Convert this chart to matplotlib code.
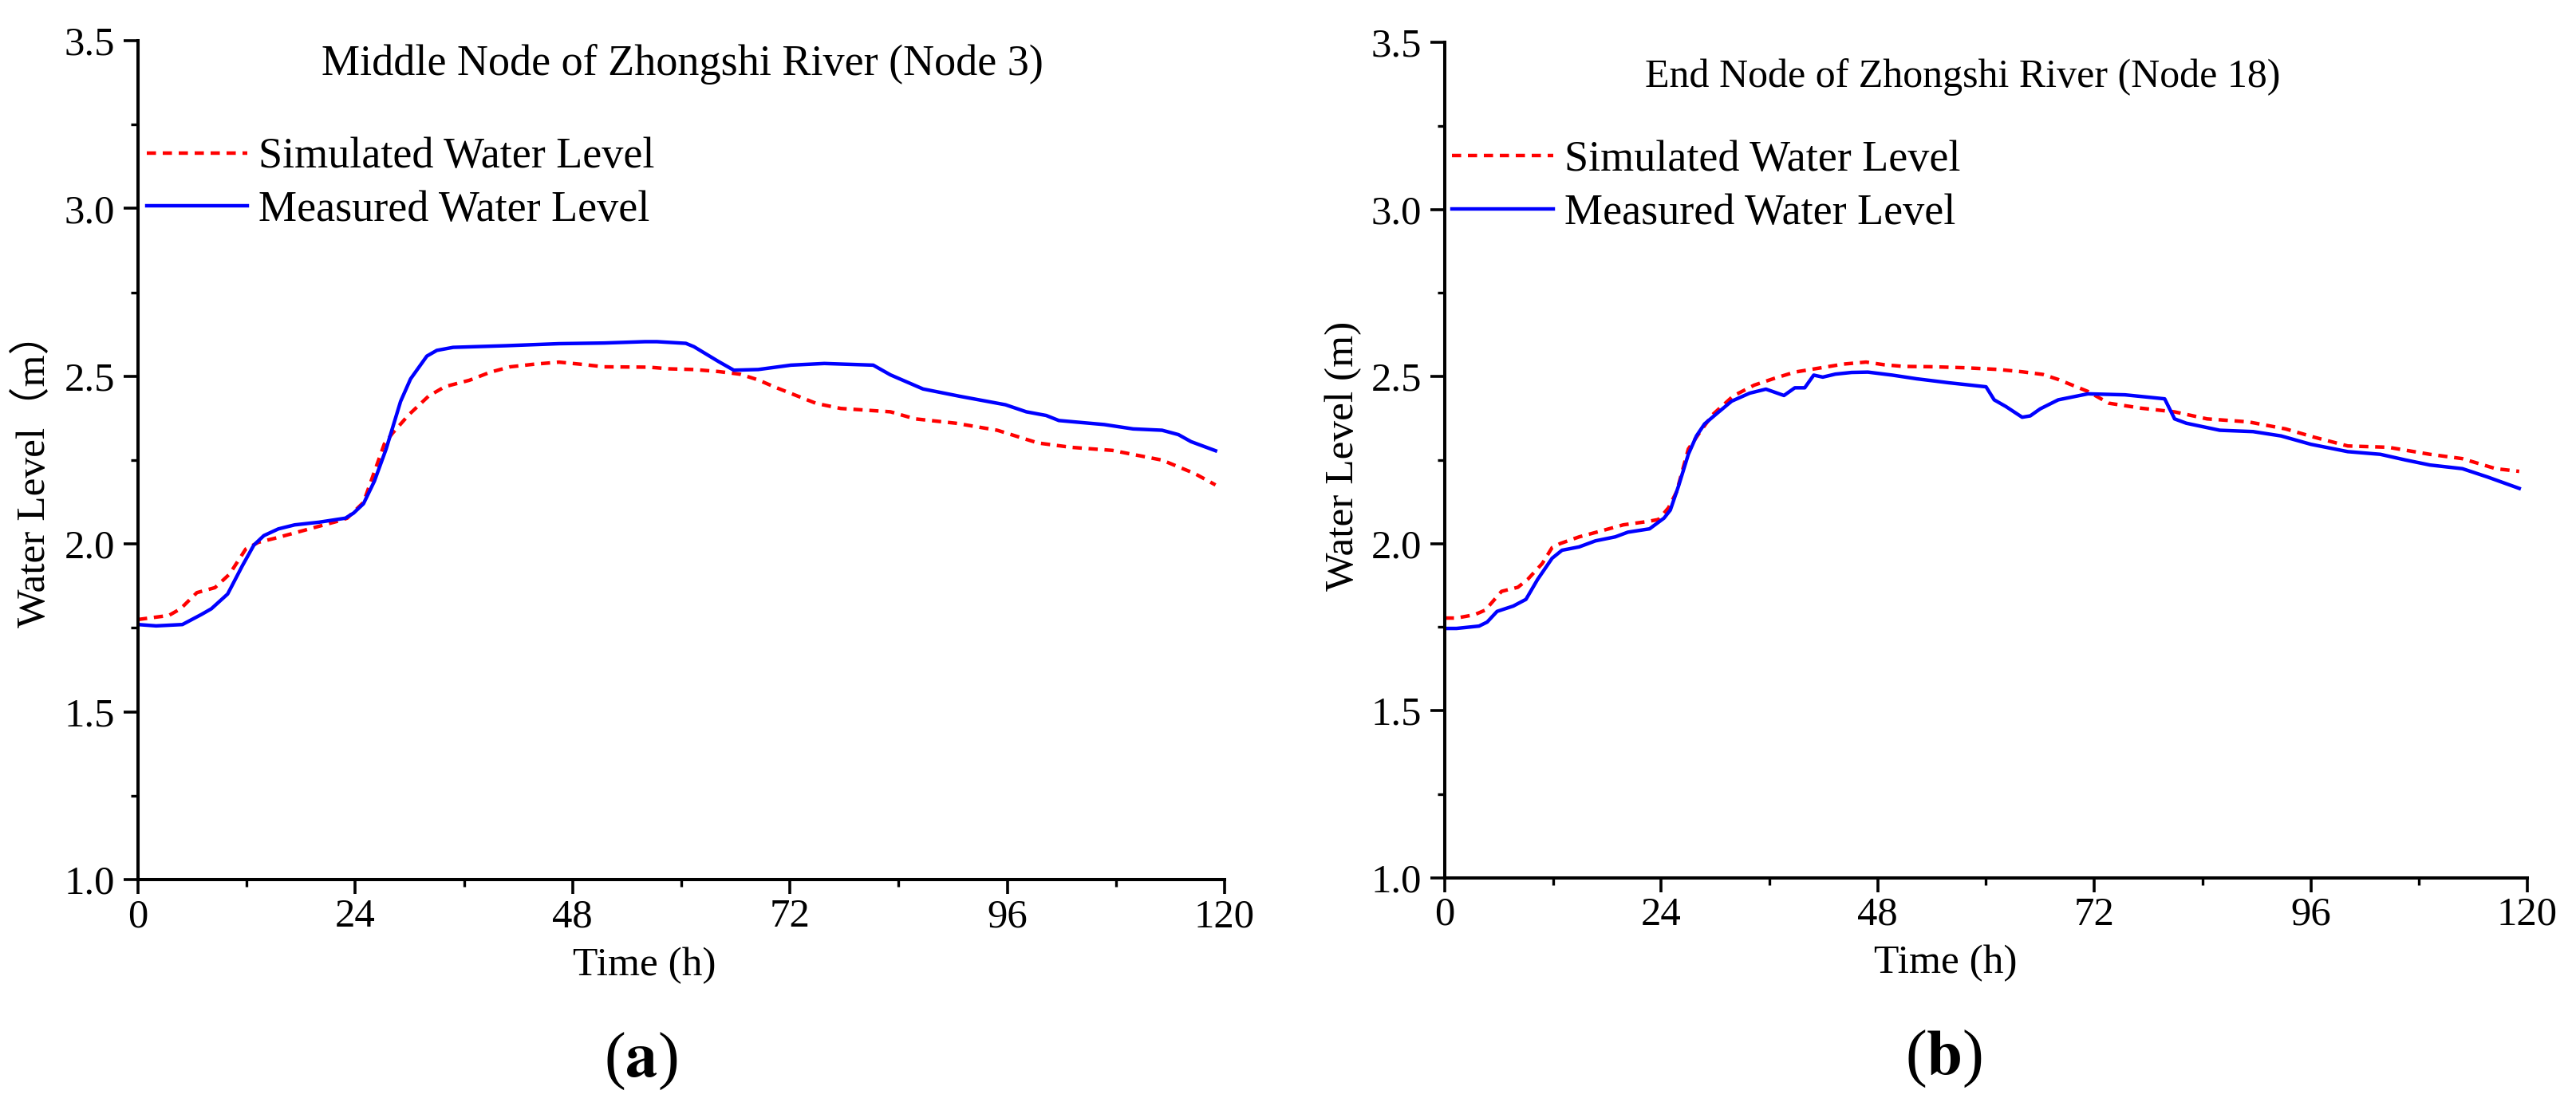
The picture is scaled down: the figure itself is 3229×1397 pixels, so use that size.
"""Simulated vs measured water level at two Zhongshi River nodes (panels a, b)."""

import matplotlib

matplotlib.use("Agg")
import matplotlib.pyplot as plt  # noqa: E402
from matplotlib.ticker import MultipleLocator  # noqa: E402

# --- data --------------------------------------------------------------------
# (a) middle node (node 3)
mid_meas_h = [0, 2.0, 4.9, 7.0, 8.1, 9.9, 11.5, 12.8, 13.9, 15.5, 17.3, 20.0,
              22.9, 23.8, 24.9, 26.1, 27.4, 29.0, 30.1, 31.9, 33.0, 34.8, 40.7,
              46.5, 51.5, 56.0, 57.3, 60.5, 61.4, 64.1, 65.8, 68.5, 72.1, 75.8,
              81.2, 83.1, 86.7, 90.8, 95.8, 98.1, 100.3, 101.7, 106.7, 109.9,
              113.1, 114.9, 116.3, 119.0]
mid_meas_lv = [1.760, 1.756, 1.760, 1.790, 1.807, 1.851, 1.934, 1.997, 2.025,
               2.045, 2.057, 2.065, 2.077, 2.092, 2.120, 2.187, 2.283, 2.425,
               2.492, 2.560, 2.577, 2.586, 2.591, 2.597, 2.599, 2.603, 2.603,
               2.598, 2.588, 2.544, 2.518, 2.520, 2.533, 2.538, 2.533, 2.504,
               2.462, 2.440, 2.415, 2.394, 2.383, 2.368, 2.356, 2.343, 2.339,
               2.326, 2.305, 2.278]
mid_sim_h = [0, 3.4, 4.7, 6.5, 8.5, 10.1, 11.9, 13.3, 15.1, 17.3, 20.0, 22.2,
             23.1, 24.9, 27.2, 28.1, 29.9, 32.1, 33.9, 36.6, 38.9, 41.1, 43.8,
             46.5, 48.8, 51.5, 56.4, 58.7, 61.4, 64.1, 66.5, 68.5, 70.3, 74.9,
             77.6, 83.1, 85.8, 90.3, 94.9, 99.4, 103.1, 107.6, 113.1, 116.7,
             119.0]
mid_sim_lv = [1.775, 1.787, 1.807, 1.855, 1.870, 1.910, 1.985, 2.005, 2.017,
              2.033, 2.053, 2.069, 2.077, 2.124, 2.298, 2.330, 2.385, 2.441,
              2.469, 2.488, 2.512, 2.528, 2.536, 2.542, 2.536, 2.528, 2.527,
              2.522, 2.520, 2.514, 2.506, 2.489, 2.468, 2.419, 2.404, 2.394,
              2.373, 2.360, 2.339, 2.301, 2.288, 2.279, 2.250, 2.210, 2.176]

# (b) end node (node 18)
end_meas_h = [0, 1.3, 3.8, 4.7, 5.8, 7.6, 9.0, 10.3, 11.9, 13.0, 14.9, 16.7,
              18.9, 20.3, 22.7, 24.3, 25.0, 25.9, 27.0, 27.9, 28.8, 30.2, 31.8,
              33.8, 35.6, 37.6, 38.8, 39.9, 40.9, 41.9, 43.3, 45.1, 46.9, 49.6,
              52.3, 55.9, 60.0, 60.9, 62.2, 64.0, 64.9, 66.0, 68.0, 71.3, 75.4,
              79.8, 80.9, 82.2, 85.9, 89.6, 92.7, 96.0, 100.1, 103.7, 106.5,
              109.2, 112.8, 115.6, 119.1]
end_meas_lv = [1.746, 1.746, 1.753, 1.765, 1.797, 1.813, 1.833, 1.893, 1.956,
               1.980, 1.990, 2.008, 2.020, 2.034, 2.044, 2.076, 2.100, 2.171,
               2.267, 2.322, 2.358, 2.390, 2.426, 2.450, 2.462, 2.443, 2.466,
               2.466, 2.504, 2.498, 2.507, 2.512, 2.513, 2.504, 2.493, 2.481,
               2.469, 2.430, 2.410, 2.378, 2.382, 2.403, 2.430, 2.448, 2.445,
               2.433, 2.373, 2.360, 2.339, 2.335, 2.322, 2.297, 2.275, 2.267,
               2.250, 2.235, 2.224, 2.199, 2.165]
end_sim_h = [0, 1.3, 3.3, 4.5, 6.3, 8.1, 9.2, 10.8, 11.9, 12.8, 14.9, 17.1,
             19.8, 22.5, 23.7, 24.8, 25.7, 27.0, 28.4, 29.7, 32.0, 34.3, 36.5,
             38.8, 41.5, 44.2, 46.7, 48.7, 50.9, 54.1, 57.7, 61.3, 64.0, 66.3,
             68.0, 71.3, 73.6, 77.2, 80.9, 84.5, 89.1, 93.2, 96.4, 100.1, 104.6,
             109.2, 112.8, 116.5, 119.1]
end_sim_lv = [1.777, 1.777, 1.787, 1.801, 1.857, 1.869, 1.893, 1.940, 1.988,
              2.000, 2.020, 2.036, 2.056, 2.066, 2.072, 2.107, 2.155, 2.283,
              2.338, 2.386, 2.442, 2.474, 2.494, 2.513, 2.525, 2.537, 2.543,
              2.535, 2.530, 2.529, 2.526, 2.521, 2.514, 2.506, 2.491, 2.455,
              2.420, 2.405, 2.394, 2.373, 2.364, 2.343, 2.318, 2.292, 2.288,
              2.267, 2.254, 2.224, 2.216]

LABEL_SIM = "Simulated Water Level"
LABEL_MEAS = "Measured Water Level"

# --- layout (reference pixels) ----------------------------------------------
W, H = 3230, 1397
SERIF = ["Liberation Serif", "Noto Sans CJK SC", "DejaVu Serif"]
plt.rcParams["font.family"] = SERIF
plt.rcParams["mathtext.fontset"] = "stix"

fig = plt.figure(figsize=(W / 100, H / 100), dpi=100, facecolor="white")


def box(x0, y0, x1, y1):
    return [x0 / W, 1 - y1 / H, (x1 - x0) / W, (y1 - y0) / H]


def ftext(x, y, s, **kw):
    fig.text(x / W, 1 - y / H, s, **kw)


def panel(rect, meas_h, meas_lv, sim_h, sim_lv, leg_anchor):
    ax = fig.add_axes(rect)
    ax.plot(sim_h, sim_lv, color="#ff0000", lw=3.2, dashes=(2.6, 1.9),
            label=LABEL_SIM)
    ax.plot(meas_h, meas_lv, color="#0000ff", lw=3.2, label=LABEL_MEAS)
    ax.set_xlim(0, 120)
    ax.set_ylim(1.0, 3.5)
    ax.xaxis.set_major_locator(MultipleLocator(24))
    ax.xaxis.set_minor_locator(MultipleLocator(12))
    ax.yaxis.set_major_locator(MultipleLocator(0.5))
    ax.yaxis.set_minor_locator(MultipleLocator(0.25))
    ax.yaxis.set_major_formatter(plt.FormatStrFormatter("%.1f"))
    for side in ("top", "right"):
        ax.spines[side].set_visible(False)
    for side in ("left", "bottom"):
        ax.spines[side].set_linewidth(2.9)
    ax.tick_params(which="major", direction="out", length=13, width=2.6,
                   labelsize=36.5)
    ax.tick_params(which="minor", direction="out", length=6.5, width=2.4)
    ax.tick_params(axis="x", pad=4)
    ax.tick_params(axis="y", pad=8)
    ax.legend(frameon=False, loc="upper left", bbox_to_anchor=leg_anchor,
              borderaxespad=0, borderpad=0, fontsize=39, handlelength=2.33,
              handletextpad=0.26, labelspacing=0.30)
    return ax


panel(box(173, 51, 1535, 1103), mid_meas_h, mid_meas_lv, mid_sim_h, mid_sim_lv,
      (0.008, 0.885))
panel(box(1811, 53, 3168, 1100.7), end_meas_h, end_meas_lv, end_sim_h,
      end_sim_lv, (0.007, 0.883))

# titles inside the plot area
ftext(855, 93.5, "Middle Node of Zhongshi River (Node 3)", fontsize=39,
      ha="center", va="baseline")
ftext(2460, 109, "End Node of Zhongshi River (Node 18)", fontsize=36,
      ha="center", va="baseline")

# axis labels
ftext(43, 590, "Water Level（m）", fontsize=37, rotation=90, ha="center",
      va="center", family=SERIF)
ftext(1684, 572, "Water Level (m)", fontsize=37, rotation=90, ha="center",
      va="center")
ftext(808, 1223, "Time (h)", fontsize=37, ha="center", va="baseline")
ftext(2439, 1220, "Time (h)", fontsize=37, ha="center", va="baseline")

# panel letters: normal parentheses, bold letter
ftext(803, 1350, r"($\mathbf{a}$)", fontsize=58, ha="center", va="baseline")
ftext(2436, 1347, r"($\mathbf{b}$)", fontsize=58, ha="center", va="baseline")

fig.savefig("out.png", dpi=100, facecolor="white")
